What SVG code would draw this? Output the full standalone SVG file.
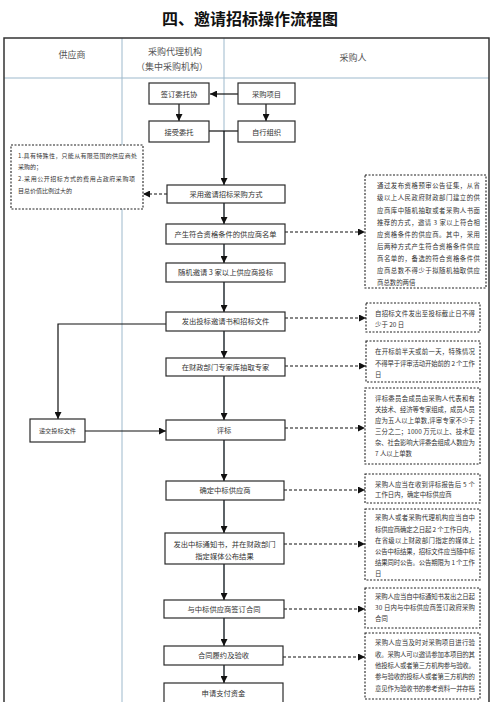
<svg xmlns="http://www.w3.org/2000/svg" width="500" height="702" viewBox="0 0 500 702">
<style>
text{font-family:"Noto Sans CJK SC","Noto Sans",sans-serif;fill:#333}
.title{font-size:16px;font-weight:bold;fill:#111}
.hd{font-size:9px;fill:#555}
.bx{fill:#fff;stroke:#2a2a2a;stroke-width:1.2}
.bt{font-size:7.3px;text-anchor:middle}
.nb{fill:#fff;stroke:#222;stroke-width:1.1;stroke-dasharray:2,1.5}
.nt{font-size:6.4px}
.ln{fill:none;stroke:#111;stroke-width:1.2}
.dl{fill:none;stroke:#111;stroke-width:1.2;stroke-dasharray:3,2}
.col{stroke:#9db9cc;stroke-width:1}
</style>
<defs>
<marker id="ar" viewBox="0 0 10 10" refX="10" refY="5" markerWidth="7" markerHeight="7" markerUnits="userSpaceOnUse" orient="auto">
<path d="M0,0 L10,5 L0,10 z" fill="#111"/>
</marker>
</defs>
<rect width="500" height="702" fill="#fff"/>
<text class="title" x="250" y="25" text-anchor="middle">四、邀请招标操作流程图</text>
<g id="table">
<line class="col" x1="122" y1="38" x2="122" y2="702"/>
<line class="col" x1="224" y1="38" x2="224" y2="702"/>
<line class="col" x1="4" y1="78" x2="489" y2="78"/>
<path d="M4,706 V38 H489 V706" fill="none" stroke="#333" stroke-width="1.5"/>
<text class="hd" x="72" y="58" text-anchor="middle">供应商</text>
<text class="hd" x="175" y="55" text-anchor="middle">采购代理机构</text>
<text class="hd" x="172" y="70" text-anchor="middle">（集中采购机构）</text>
<text class="hd" x="353" y="61" text-anchor="middle">采购人</text>
</g>
<g id="connectors">
<line class="ln" x1="238" y1="94" x2="210" y2="94" marker-end="url(#ar)"/>
<line class="ln" x1="179" y1="104" x2="179" y2="121" marker-end="url(#ar)"/>
<line class="ln" x1="266" y1="104" x2="266" y2="121" marker-end="url(#ar)"/>
<line class="ln" x1="209" y1="131" x2="238" y2="131"/>
<line class="ln" x1="224" y1="131" x2="224" y2="185" marker-end="url(#ar)"/>
<line class="ln" x1="224" y1="203" x2="224" y2="224" marker-end="url(#ar)"/>
<line class="ln" x1="224" y1="244" x2="224" y2="263" marker-end="url(#ar)"/>
<line class="ln" x1="224" y1="282" x2="224" y2="312" marker-end="url(#ar)"/>
<line class="ln" x1="224" y1="331" x2="224" y2="358" marker-end="url(#ar)"/>
<line class="ln" x1="224" y1="376" x2="224" y2="420" marker-end="url(#ar)"/>
<line class="ln" x1="224" y1="440" x2="224" y2="481" marker-end="url(#ar)"/>
<line class="ln" x1="224" y1="500" x2="224" y2="533" marker-end="url(#ar)"/>
<line class="ln" x1="224" y1="564" x2="224" y2="600" marker-end="url(#ar)"/>
<line class="ln" x1="224" y1="618" x2="224" y2="646" marker-end="url(#ar)"/>
<line class="ln" x1="224" y1="665" x2="224" y2="683" marker-end="url(#ar)"/>
<path class="ln" d="M166,324 H58 V419" marker-end="url(#ar)"/>
<line class="ln" x1="85" y1="431" x2="166" y2="431" marker-end="url(#ar)"/>
<line class="dl" x1="167" y1="194" x2="143" y2="194" marker-end="url(#ar)"/>
<line class="dl" x1="285" y1="232" x2="365" y2="232" marker-end="url(#ar)"/>
<line class="dl" x1="285" y1="318" x2="366" y2="318" marker-end="url(#ar)"/>
<line class="dl" x1="285" y1="366" x2="366" y2="366" marker-end="url(#ar)"/>
<line class="dl" x1="285" y1="428" x2="365" y2="428" marker-end="url(#ar)"/>
<line class="dl" x1="284" y1="490" x2="365" y2="490" marker-end="url(#ar)"/>
<line class="dl" x1="284" y1="544" x2="365" y2="544" marker-end="url(#ar)"/>
<line class="dl" x1="284" y1="609" x2="365" y2="609" marker-end="url(#ar)"/>
<line class="dl" x1="283" y1="657" x2="365" y2="657" marker-end="url(#ar)"/>
</g>
<g id="n-qianding"><rect class="bx" x="149" y="83" width="60" height="21"/><text class="bt" x="179" y="96.5">签订委托协</text></g>
<g id="n-xiangmu"><rect class="bx" x="238" y="83" width="57" height="21"/><text class="bt" x="266.5" y="96.5">采购项目</text></g>
<g id="n-jieshou"><rect class="bx" x="149" y="121" width="60" height="21"/><text class="bt" x="179" y="134.5">接受委托</text></g>
<g id="n-zixing"><rect class="bx" x="238" y="121" width="57" height="21"/><text class="bt" x="266.5" y="134.5">自行组织</text></g>
<g id="n-caiyong"><rect class="bx" x="167" y="185" width="118" height="18"/><text class="bt" x="226" y="196.6">采用邀请招标采购方式</text></g>
<g id="n-chansheng"><rect class="bx" x="166" y="224" width="119" height="20"/><text class="bt" x="225.5" y="236.6">产生符合资格条件的供应商名单</text></g>
<g id="n-suiji"><rect class="bx" x="166" y="263" width="119" height="19"/><text class="bt" x="225.5" y="275">随机邀请 3 家以上供应商投标</text></g>
<g id="n-fachu"><rect class="bx" x="166" y="312" width="119" height="19"/><text class="bt" x="225.5" y="324">发出投标邀请书和招标文件</text></g>
<g id="n-zhuanjia"><rect class="bx" x="166" y="358" width="119" height="18"/><text class="bt" x="225.5" y="369.5">在财政部门专家库抽取专家</text></g>
<g id="n-pingbiao"><rect class="bx" x="166" y="420" width="119" height="20"/><text class="bt" x="224" y="432.6">评标</text></g>
<g id="n-dijiao"><rect class="bx" x="30" y="419" width="55" height="23"/><text class="bt" x="57.5" y="432.6" style="font-size:6.2px">递交投标文件</text></g>
<g id="n-queding"><rect class="bx" x="166" y="481" width="118" height="19"/><text class="bt" x="225" y="493">确定中标供应商</text></g>
<g id="n-tongzhi"><rect class="bx" x="165" y="533" width="119" height="31"/><text class="bt" x="224.5" y="546.5">发出中标通知书，并在财政部门</text><text class="bt" x="224.5" y="558.5">指定媒体公布结果</text></g>
<g id="n-hetong"><rect class="bx" x="164" y="600" width="120" height="18"/><text class="bt" x="224" y="611.5">与中标供应商签订合同</text></g>
<g id="n-lvyue"><rect class="bx" x="164" y="646" width="119" height="19"/><text class="bt" x="223.5" y="658">合同履约及验收</text></g>
<g id="n-zhifu"><rect class="bx" x="164" y="683" width="119" height="24"/><text class="bt" x="223.5" y="696">申请支付资金</text></g>
<g id="note1"><rect class="nb" x="11" y="145" width="132" height="64"/>
<text class="nt" style="font-size:6px" x="18" y="158" textLength="119" lengthAdjust="spacing">1.具有特殊性，只能从有限范围的供应商处</text>
<text class="nt" style="font-size:6px" x="18" y="169">采购的；</text>
<text class="nt" style="font-size:6px" x="18" y="181" textLength="117" lengthAdjust="spacing">2.采用公开招标方式的费用占政府采购项</text>
<text class="nt" style="font-size:6px" x="18" y="193">目总价值比例过大的</text></g>
<g id="note2"><rect class="nb" x="365" y="175" width="121" height="113"/>
<text class="nt" x="377" y="188.3" textLength="103" lengthAdjust="spacing">通过发布资格预审公告征集，从省</text>
<text class="nt" x="377" y="200.4" textLength="103" lengthAdjust="spacing">级以上人民政府财政部门建立的供</text>
<text class="nt" x="377" y="212.5" textLength="103" lengthAdjust="spacing">应商库中随机抽取或者采购人书面</text>
<text class="nt" x="377" y="224.6" textLength="103" lengthAdjust="spacing">推荐的方式，邀请 3 家以上符合相</text>
<text class="nt" x="377" y="236.7" textLength="103" lengthAdjust="spacing">应资格条件的供应商。其中，采用</text>
<text class="nt" x="377" y="248.8" textLength="103" lengthAdjust="spacing">后两种方式产生符合资格条件供应</text>
<text class="nt" x="377" y="260.9" textLength="103" lengthAdjust="spacing">商名单的，备选的符合资格条件供</text>
<text class="nt" x="377" y="273" textLength="103" lengthAdjust="spacing">应商总数不得少于拟随机抽取供应</text>
<text class="nt" x="377" y="285.1">商总数的两倍</text></g>
<g id="note3"><rect class="nb" x="366" y="303" width="114" height="29"/>
<text class="nt" x="375" y="316.3" textLength="100" lengthAdjust="spacing">自招标文件发出至投标截止日不得</text>
<text class="nt" x="375" y="327.3">少于 20 日</text></g>
<g id="note4"><rect class="nb" x="366" y="341" width="114" height="41"/>
<text class="nt" x="375" y="354.3" textLength="100" lengthAdjust="spacing">在开标前半天或前一天，特殊情况</text>
<text class="nt" x="375" y="366.3" textLength="100" lengthAdjust="spacing">不得早于评审活动开始前的 2 个工作</text>
<text class="nt" x="375" y="377.3">日</text></g>
<g id="note5"><rect class="nb" x="365" y="388" width="115" height="76"/>
<text class="nt" x="375" y="401.3" textLength="100" lengthAdjust="spacing">评标委员会成员由采购人代表和有</text>
<text class="nt" x="375" y="412.3" textLength="100" lengthAdjust="spacing">关技术、经济等专家组成，成员人员</text>
<text class="nt" x="375" y="423.3" textLength="100" lengthAdjust="spacing">应为五人以上单数,评审专家不少于</text>
<text class="nt" x="375" y="434.3" textLength="100" lengthAdjust="spacing">三分之二；1000 万元以上、技术复</text>
<text class="nt" x="375" y="445.3" textLength="100" lengthAdjust="spacing">杂、社会影响大评委会组成人数应为</text>
<text class="nt" x="375" y="456.3">7 人以上单数</text></g>
<g id="note6"><rect class="nb" x="365" y="474" width="115" height="29"/>
<text class="nt" x="375" y="487.3" textLength="100" lengthAdjust="spacing">采购人应当在收到评标报告后 5 个</text>
<text class="nt" x="375" y="497.3">工作日内，确定中标供应商</text></g>
<g id="note7"><rect class="nb" x="365" y="509" width="115" height="71"/>
<text class="nt" x="375" y="520.3" textLength="100" lengthAdjust="spacing">采购人或者采购代理机构应当自中</text>
<text class="nt" x="375" y="531.5" textLength="100" lengthAdjust="spacing">标供应商确定之日起 2 个工作日内，</text>
<text class="nt" x="375" y="542.7" textLength="100" lengthAdjust="spacing">在省级以上财政部门指定的媒体上</text>
<text class="nt" x="375" y="553.9" textLength="100" lengthAdjust="spacing">公告中标结果，招标文件应当随中标</text>
<text class="nt" x="375" y="565.1" textLength="100" lengthAdjust="spacing">结果同时公告。公告期限为 1 个工作</text>
<text class="nt" x="375" y="576.3">日</text></g>
<g id="note8"><rect class="nb" x="365" y="588" width="115" height="40"/>
<text class="nt" x="375" y="599.3" textLength="100" lengthAdjust="spacing">采购人应当自中标通知书发出之日起</text>
<text class="nt" x="375" y="610.3" textLength="100" lengthAdjust="spacing">30 日内与中标供应商签订政府采购</text>
<text class="nt" x="375" y="621.3">合同</text></g>
<g id="note9"><rect class="nb" x="365" y="633" width="115" height="66"/>
<text class="nt" x="375" y="645.3" textLength="100" lengthAdjust="spacing">采购人应当及时对采购项目进行验</text>
<text class="nt" x="375" y="656.6" textLength="100" lengthAdjust="spacing">收。采购人可以邀请参加本项目的其</text>
<text class="nt" x="375" y="667.9" textLength="100" lengthAdjust="spacing">他投标人或者第三方机构参与验收。</text>
<text class="nt" x="375" y="679.2" textLength="100" lengthAdjust="spacing">参与验收的投标人或者第三方机构的</text>
<text class="nt" x="375" y="690.5" textLength="100" lengthAdjust="spacing">意见作为验收书的参考资料一并存档</text></g>
</svg>
